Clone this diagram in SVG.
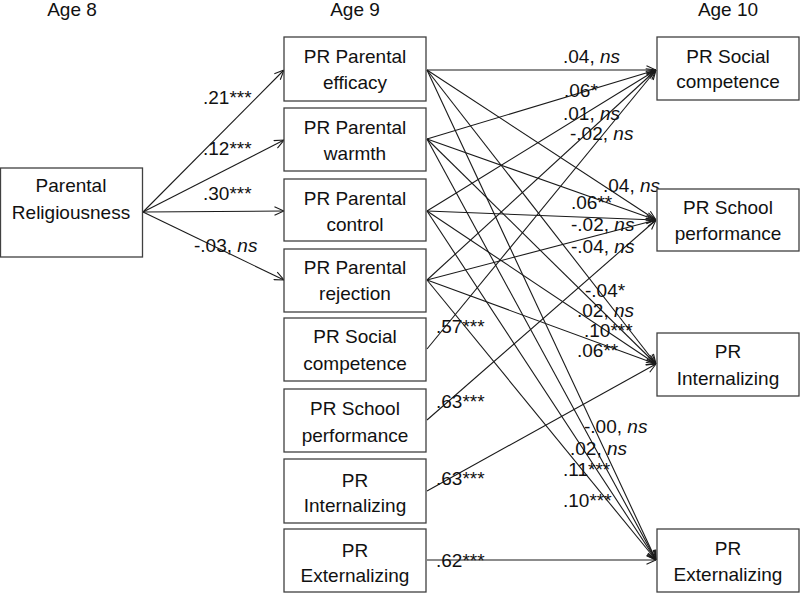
<svg xmlns="http://www.w3.org/2000/svg" width="800" height="593" viewBox="0 0 800 593">
<style>
text{font-family:"Liberation Sans",Arial,sans-serif;font-size:19px;fill:#111}
.c{text-anchor:middle}
.box{fill:#fff;stroke:#404040;stroke-width:1.3}
.e line{stroke:#1a1a1a;stroke-width:1.1;fill:none;marker-end:url(#a)}
tspan.i{font-style:italic}
</style>
<defs>
<marker id="a" viewBox="0 0 10 10" refX="10" refY="5" markerWidth="10" markerHeight="10" markerUnits="userSpaceOnUse" orient="auto">
<path d="M0.5,0.8 L10,5 L0.5,9.2" fill="none" stroke="#1a1a1a" stroke-width="1.1"/>
</marker>
</defs>
<rect width="800" height="593" fill="#fff"/>
<g id="headings">
<text class="c" x="72" y="16">Age 8</text>
<text class="c" x="355" y="16">Age 9</text>
<text class="c" x="728" y="16">Age 10</text>
</g>
<g class="e" id="connectors">
<line x1="143" y1="212" x2="284" y2="70"/>
<line x1="143" y1="212" x2="284" y2="140"/>
<line x1="143" y1="212" x2="284" y2="211"/>
<line x1="143" y1="212" x2="284" y2="280"/>
<line x1="427" y1="70" x2="656" y2="70"/>
<line x1="427" y1="70" x2="656" y2="220"/>
<line x1="427" y1="70" x2="656" y2="364"/>
<line x1="427" y1="70" x2="656" y2="560"/>
<line x1="427" y1="139" x2="656" y2="70"/>
<line x1="427" y1="139" x2="656" y2="220"/>
<line x1="427" y1="139" x2="656" y2="364"/>
<line x1="427" y1="139" x2="656" y2="560"/>
<line x1="427" y1="211" x2="656" y2="70"/>
<line x1="427" y1="211" x2="656" y2="220"/>
<line x1="427" y1="211" x2="656" y2="364"/>
<line x1="427" y1="211" x2="656" y2="560"/>
<line x1="427" y1="280" x2="656" y2="70"/>
<line x1="427" y1="280" x2="656" y2="220"/>
<line x1="427" y1="280" x2="656" y2="364"/>
<line x1="427" y1="280" x2="656" y2="560"/>
<line x1="427" y1="349" x2="656" y2="70"/>
<line x1="427" y1="420" x2="656" y2="220"/>
<line x1="427" y1="491" x2="656" y2="364"/>
<line x1="427" y1="560" x2="656" y2="560"/>
</g>
<g id="labels">
<text x="203" y="104">.21***</text>
<text x="203" y="155">.12***</text>
<text x="203" y="200">.30***</text>
<text x="194" y="252">-.03, <tspan class="i">ns</tspan></text>
<text x="563" y="63">.04, <tspan class="i">ns</tspan></text>
<text x="564" y="97">.06*</text>
<text x="563" y="120">.01, <tspan class="i">ns</tspan></text>
<text x="570" y="140">-.02, <tspan class="i">ns</tspan></text>
<text x="603" y="192">.04, <tspan class="i">ns</tspan></text>
<text x="571" y="209">.06**</text>
<text x="571" y="231">-.02, <tspan class="i">ns</tspan></text>
<text x="571" y="253">-.04, <tspan class="i">ns</tspan></text>
<text x="585" y="297">-.04*</text>
<text x="577" y="317">.02, <tspan class="i">ns</tspan></text>
<text x="584" y="337">.10***</text>
<text x="577" y="357">.06**</text>
<text x="584" y="433">-.00, <tspan class="i">ns</tspan></text>
<text x="570" y="455">.02, <tspan class="i">ns</tspan></text>
<text x="563" y="476">.11***</text>
<text x="563" y="507">.10***</text>
<text x="436" y="333">.57***</text>
<text x="436" y="408">.63***</text>
<text x="436" y="485">.63***</text>
<text x="436" y="567">.62***</text>
</g>
<g id="parental-religiousness">
<rect class="box" x="0.5" y="168" width="142" height="89"/>
<text class="c" x="71" y="192">Parental</text>
<text class="c" x="71" y="219">Religiousness</text>
</g>
<g id="a9-efficacy">
<rect class="box" x="284" y="37" width="142" height="64"/>
<text class="c" x="355" y="63">PR Parental</text>
<text class="c" x="355" y="89">efficacy</text>
</g>
<g id="a9-warmth">
<rect class="box" x="284" y="108" width="142" height="63"/>
<text class="c" x="355" y="134">PR Parental</text>
<text class="c" x="355" y="160">warmth</text>
</g>
<g id="a9-control">
<rect class="box" x="284" y="179" width="142" height="62"/>
<text class="c" x="355" y="205">PR Parental</text>
<text class="c" x="355" y="231">control</text>
</g>
<g id="a9-rejection">
<rect class="box" x="284" y="249" width="142" height="63"/>
<text class="c" x="355" y="274">PR Parental</text>
<text class="c" x="355" y="300">rejection</text>
</g>
<g id="a9-social">
<rect class="box" x="284" y="318" width="142" height="63"/>
<text class="c" x="355" y="343">PR Social</text>
<text class="c" x="355" y="370">competence</text>
</g>
<g id="a9-school">
<rect class="box" x="284" y="389" width="142" height="63"/>
<text class="c" x="355" y="415">PR School</text>
<text class="c" x="355" y="442">performance</text>
</g>
<g id="a9-internalizing">
<rect class="box" x="284" y="459" width="142" height="64"/>
<text class="c" x="355" y="487">PR</text>
<text class="c" x="355" y="512">Internalizing</text>
</g>
<g id="a9-externalizing">
<rect class="box" x="284" y="529" width="142" height="63"/>
<text class="c" x="355" y="557">PR</text>
<text class="c" x="355" y="582">Externalizing</text>
</g>
<g id="a10-social">
<rect class="box" x="657" y="37" width="142" height="63"/>
<text class="c" x="728" y="63">PR Social</text>
<text class="c" x="728" y="88">competence</text>
</g>
<g id="a10-school">
<rect class="box" x="657" y="189" width="142" height="62"/>
<text class="c" x="728" y="214">PR School</text>
<text class="c" x="728" y="240">performance</text>
</g>
<g id="a10-internalizing">
<rect class="box" x="657" y="333" width="142" height="63"/>
<text class="c" x="728" y="358">PR</text>
<text class="c" x="728" y="385">Internalizing</text>
</g>
<g id="a10-externalizing">
<rect class="box" x="657" y="529" width="142" height="63"/>
<text class="c" x="728" y="555">PR</text>
<text class="c" x="728" y="581">Externalizing</text>
</g>
</svg>
